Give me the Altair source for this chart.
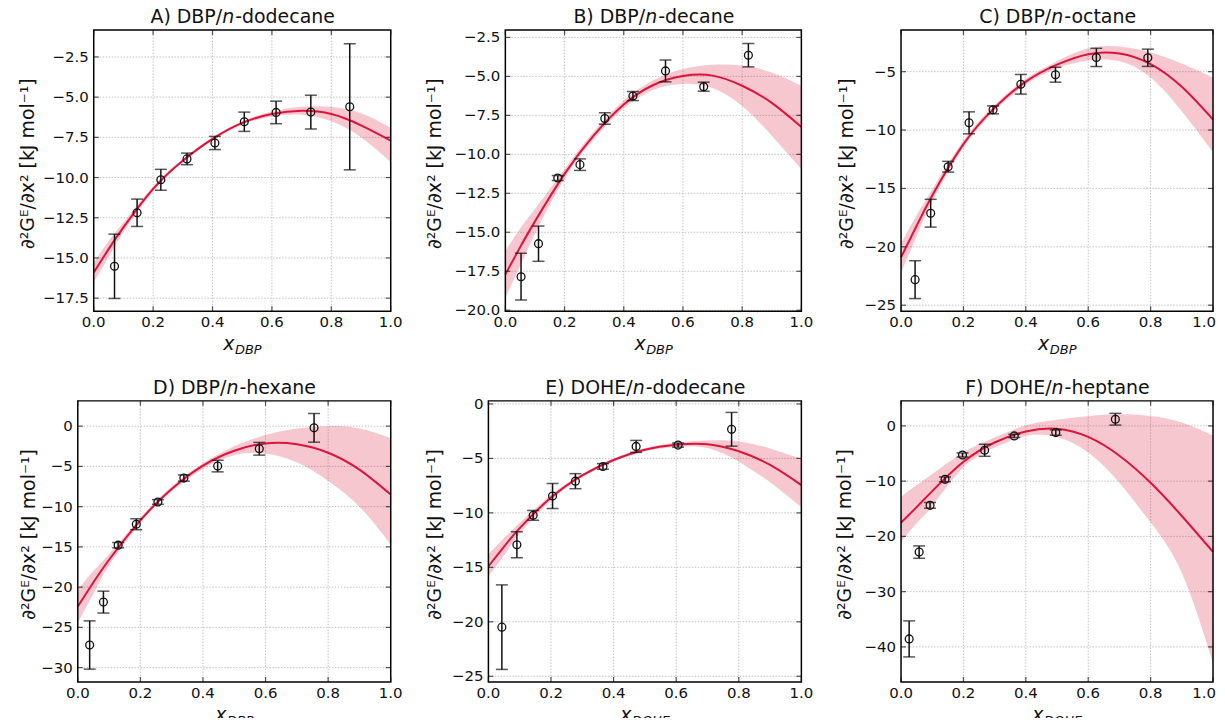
import altair as alt
import pandas as pd

FONT = "DejaVu Sans"
CRIMSON = "#dc143c"
INK = "#111111"
GRID = "#b5b5b5"

# ---------------- text ----------------
TITLE_PREFIX = ["A) DBP/", "B) DBP/", "C) DBP/", "D) DBP/", "E) DOHE/", "F) DOHE/"]
TITLE_ITALIC = "n"
TITLE_SUFFIX = ["-dodecane", "-decane", "-octane", "-hexane", "-dodecane", "-heptane"]
X_MAIN = "x"
X_SUB = ["DBP", "DBP", "DBP", "DBP", "DOHE", "DOHE"]
Y_TITLE = "∂²Gᴱ/∂x² [kJ mol⁻¹]"

# ---------------- axes: ticks and tick labels ----------------
X_TICKS = [0.0, 0.2, 0.4, 0.6, 0.8, 1.0]
X_LABELS = ["0.0", "0.2", "0.4", "0.6", "0.8", "1.0"]
Y_TICKS = [
    [-17.5, -15.0, -12.5, -10.0, -7.5, -5.0, -2.5],
    [-20.0, -17.5, -15.0, -12.5, -10.0, -7.5, -5.0, -2.5],
    [-25, -20, -15, -10, -5],
    [-30, -25, -20, -15, -10, -5, 0],
    [-25, -20, -15, -10, -5, 0],
    [-40, -30, -20, -10, 0],
]
Y_LABELS = [
    ["−17.5", "−15.0", "−12.5", "−10.0", "−7.5", "−5.0", "−2.5"],
    ["−20.0", "−17.5", "−15.0", "−12.5", "−10.0", "−7.5", "−5.0", "−2.5"],
    ["−25", "−20", "−15", "−10", "−5"],
    ["−30", "−25", "−20", "−15", "−10", "−5", "0"],
    ["−25", "−20", "−15", "−10", "−5", "0"],
    ["−40", "−30", "−20", "−10", "0"],
]
Y_DOMAIN = [
    [-18.31, -0.83],
    [-20.06, -2.03],
    [-25.51, -1.44],
    [-31.78, 3.14],
    [-25.52, 0.28],
    [-46.34, 4.53],
]

# ---------------- experimental points ----------------
A_x = [0.070, 0.146, 0.226, 0.314, 0.408, 0.507, 0.614, 0.731, 0.862]
A_y = [-15.52, -12.19, -10.14, -8.84, -7.85, -6.53, -5.95, -5.93, -5.60]
A_err = [2.00, 0.85, 0.65, 0.36, 0.41, 0.60, 0.70, 1.05, 3.92]

B_x = [0.053, 0.112, 0.177, 0.252, 0.336, 0.431, 0.541, 0.670, 0.821]
B_y = [-17.85, -15.73, -11.52, -10.66, -7.70, -6.26, -4.65, -5.66, -3.64]
B_err = [1.50, 1.13, 0.16, 0.37, 0.37, 0.29, 0.70, 0.29, 0.75]

C_x = [0.045, 0.095, 0.151, 0.218, 0.295, 0.384, 0.495, 0.626, 0.791]
C_y = [-22.81, -17.12, -13.14, -9.38, -8.27, -6.08, -5.26, -3.78, -3.81]
C_err = [1.62, 1.19, 0.46, 0.94, 0.34, 0.84, 0.64, 0.78, 0.74]

D_x = [0.038, 0.082, 0.129, 0.187, 0.256, 0.339, 0.447, 0.580, 0.755]
D_y = [-27.19, -21.86, -14.79, -12.19, -9.42, -6.45, -4.96, -2.81, -0.21]
D_err = [3.00, 1.36, 0.33, 0.68, 0.29, 0.38, 0.72, 0.79, 1.78]

E_x = [0.043, 0.091, 0.143, 0.205, 0.278, 0.366, 0.472, 0.606, 0.777]
E_y = [-20.49, -12.93, -10.23, -8.45, -7.09, -5.74, -3.90, -3.78, -2.33]
E_err = [3.88, 1.19, 0.45, 1.15, 0.69, 0.26, 0.55, 0.19, 1.55]

F_x = [0.026, 0.058, 0.093, 0.141, 0.197, 0.268, 0.363, 0.496, 0.687]
F_y = [-38.55, -22.84, -14.38, -9.67, -5.26, -4.41, -1.81, -1.21, 1.21]
F_err = [3.26, 1.12, 0.51, 0.43, 0.37, 1.09, 0.30, 0.48, 1.06]

# ---------------- fitted curves and bands ----------------
FIT_X = [0.0, 0.05, 0.1, 0.2, 0.3, 0.4, 0.5, 0.6, 0.7, 0.8, 0.9, 1.0]

A_fit = [-15.9, -14.45, -13.1, -10.7, -8.95, -7.6, -6.6, -6.05, -5.85, -6.05, -6.75, -7.7]
A_up = [-15.3, -13.95, -12.8, -10.55, -8.85, -7.5, -6.5, -5.9, -5.6, -5.6, -6.0, -6.9]
A_lo = [-16.5, -14.95, -13.4, -10.85, -9.05, -7.7, -6.7, -6.2, -6.1, -6.5, -7.5, -9.05]

B_fit = [-17.7, -15.95, -14.3, -11.25, -8.75, -6.8, -5.55, -4.98, -4.95, -5.6, -6.7, -8.25]
B_up = [-16.2, -14.75, -13.5, -10.95, -8.5, -6.55, -5.25, -4.53, -4.25, -4.3, -4.75, -5.6]
B_lo = [-19.2, -17.15, -15.1, -11.55, -9.0, -7.05, -5.85, -5.48, -5.75, -6.9, -8.8, -10.95]

C_fit = [-20.9, -18.2, -15.6, -11.2, -8.1, -5.85, -4.4, -3.5, -3.45, -4.35, -6.3, -9.1]
C_up = [-19.7, -17.3, -15.1, -10.9, -7.85, -5.6, -4.1, -3.0, -2.85, -3.35, -4.3, -5.5]
C_lo = [-22.2, -19.1, -16.1, -11.5, -8.35, -6.1, -4.7, -4.05, -4.1, -5.5, -8.4, -11.9]

D_fit = [-22.4, -19.4, -16.6, -11.7, -7.8, -4.9, -3.05, -2.15, -2.25, -3.3, -5.4, -8.5]
D_up = [-20.3, -18.0, -15.9, -11.4, -7.5, -4.6, -2.5, -1.1, -0.3, 0.0, -0.3, -1.5]
D_lo = [-24.4, -20.8, -17.3, -12.0, -8.1, -5.3, -3.6, -3.4, -4.5, -6.8, -10.0, -14.7]

E_fit = [-14.9, -13.1, -11.4, -8.6, -6.55, -5.15, -4.2, -3.75, -3.7, -4.35, -5.6, -7.45]
E_up = [-13.8, -12.3, -10.9, -8.35, -6.4, -5.0, -4.05, -3.55, -3.35, -3.45, -4.1, -5.05]
E_lo = [-15.8, -13.9, -11.9, -8.85, -6.7, -5.3, -4.35, -3.95, -4.05, -5.3, -7.2, -9.5]

F_fit = [-17.5, -14.7, -11.8, -6.5, -3.0, -1.0, -0.5, -2.0, -5.4, -10.3, -16.3, -22.8]
F_up = [-12.8, -10.7, -8.7, -4.8, -2.1, 0.1, 1.1, 1.8, 2.1, 1.8, 0.6, -1.8]
F_lo = [-21.0, -17.6, -14.5, -7.5, -3.9, -1.8, -2.0, -4.8, -10.3, -17.5, -26.6, -42.9]

PTS = [(A_x, A_y, A_err), (B_x, B_y, B_err), (C_x, C_y, C_err),
       (D_x, D_y, D_err), (E_x, E_y, E_err), (F_x, F_y, F_err)]
FITS = [(A_fit, A_up, A_lo), (B_fit, B_up, B_lo), (C_fit, C_up, C_lo),
        (D_fit, D_up, D_lo), (E_fit, E_up, E_lo), (F_fit, F_up, F_lo)]

# ---------------- layout ----------------
CELL_W = [314, 314, 313, 314, 314, 313]    # grid cell width
PLOT_X0 = [16, 17, 0, 0, 0, 0]             # left edge of the plot frame inside its cell
HEIGHT = 282
YTITLE_OFF = [60, 65, 48, 43, 48, 50]      # baseline of rotated y title, left of plot
FLUSH_LAST = [False, False, True, False, False, True]
TITLE_SIZE = 19
AXTITLE_SIZE = 19
SUB_SIZE = 13
LABEL_SIZE = 15

CW = {'A': .684, ')': .390, ' ': .318, 'D': .770, 'B': .686, 'P': .603, '/': .337,
      'n': .634, '-': .361, 'd': .635, 'o': .612, 'e': .615, 'c': .550, 'a': .613,
      'h': .634, 'x': .592, 't': .392, 'p': .635, 'E': .632, 'O': .787, 'H': .752,
      'C': .698, 'F': .575, 'l': .278}


def tw(s, size):
    return sum(CW.get(ch, 0.6) for ch in s) * size


def text_layer(txt, x, y, size, italic=False, align="left", angle=0):
    return alt.Chart(pd.DataFrame({"t": [txt]})).mark_text(
        font=FONT, fontSize=size, fontStyle="italic" if italic else "normal",
        align=align, baseline="alphabetic", color=INK, angle=angle,
    ).encode(text="t:N", x=alt.value(x), y=alt.value(y))


def panel(i):
    w = CELL_W[i]
    r0 = PLOT_X0[i]
    ydom = Y_DOMAIN[i]
    xs = alt.Scale(domain=[0, 1], range=[r0, w], nice=False, zero=False)
    ys = alt.Scale(domain=ydom, nice=False, zero=False)

    def X(f):
        return alt.X(f, type="quantitative", scale=xs, axis=None)

    def Y(f):
        return alt.Y(f, type="quantitative", scale=ys, axis=None)

    nt = len(X_TICKS)
    ny = len(Y_TICKS[i])

    # dotted grid
    gx = alt.Chart(pd.DataFrame({"x": X_TICKS[1:-1], "y1": [ydom[0]] * (nt - 2),
                                 "y2": [ydom[1]] * (nt - 2)})).mark_rule(
        color=GRID, strokeWidth=0.8, strokeDash=[1.5, 1.5]).encode(x=X("x"), y=Y("y1"), y2="y2:Q")
    gy = alt.Chart(pd.DataFrame({"y": Y_TICKS[i], "x1": [0.0] * ny, "x2": [1.0] * ny})).mark_rule(
        color=GRID, strokeWidth=0.8, strokeDash=[1.5, 1.5]).encode(y=Y("y"), x=X("x1"), x2="x2:Q")

    fit, up, lo = FITS[i]
    fdf = pd.DataFrame({"x": FIT_X, "fit": fit, "up": up, "lo": lo})
    px, py, pe = PTS[i]
    pdf = pd.DataFrame({"x": px, "y": py,
                        "lo": [a - b for a, b in zip(py, pe)],
                        "hi": [a + b for a, b in zip(py, pe)]})
    cdf = pd.DataFrame({"x": px + px,
                        "v": [a - b for a, b in zip(py, pe)] + [a + b for a, b in zip(py, pe)]})

    band = alt.Chart(fdf).mark_area(color=CRIMSON, opacity=0.24, interpolate="natural").encode(
        x=X("x"), y=Y("lo"), y2="up:Q")
    line = alt.Chart(fdf).mark_line(color=CRIMSON, strokeWidth=2, interpolate="natural").encode(
        x=X("x"), y=Y("fit"))
    bars = alt.Chart(pdf).mark_rule(color=INK, strokeWidth=1.5).encode(
        x=X("x"), y=Y("lo"), y2="hi:Q")
    caps = alt.Chart(cdf).mark_tick(orient="horizontal", size=12, thickness=1.5, color=INK).encode(
        x=X("x"), y=Y("v"))
    pts = alt.Chart(pdf).mark_point(shape="circle", filled=False, size=62, strokeWidth=1.3,
                                    color=INK, opacity=1).encode(x=X("x"), y=Y("y"))

    # frame
    frame = alt.Chart(pd.DataFrame({"x1": [0.0], "x2": [1.0], "y1": [ydom[0]], "y2": [ydom[1]]})).mark_rect(
        fillOpacity=0, stroke="black", strokeWidth=1.5).encode(x=X("x1"), x2="x2:Q", y=Y("y1"), y2="y2:Q")

    # inward ticks on all four sides
    tk = dict(thickness=1.2, color=INK, size=5)
    t_bot = alt.Chart(pd.DataFrame({"x": X_TICKS, "y": [ydom[0]] * nt})).mark_tick(
        orient="vertical", yOffset=-2.5, **tk).encode(x=X("x"), y=Y("y"))
    t_top = alt.Chart(pd.DataFrame({"x": X_TICKS, "y": [ydom[1]] * nt})).mark_tick(
        orient="vertical", yOffset=2.5, **tk).encode(x=X("x"), y=Y("y"))
    t_left = alt.Chart(pd.DataFrame({"x": [0.0] * ny, "y": Y_TICKS[i]})).mark_tick(
        orient="horizontal", xOffset=2.5, **tk).encode(x=X("x"), y=Y("y"))
    t_right = alt.Chart(pd.DataFrame({"x": [1.0] * ny, "y": Y_TICKS[i]})).mark_tick(
        orient="horizontal", xOffset=-2.5, **tk).encode(x=X("x"), y=Y("y"))

    # tick labels
    lab = dict(font=FONT, fontSize=LABEL_SIZE, color=INK)
    n_center = nt - 1 if FLUSH_LAST[i] else nt
    xl = alt.Chart(pd.DataFrame({"x": X_TICKS[:n_center], "y": [ydom[0]] * n_center,
                                 "t": X_LABELS[:n_center]})).mark_text(
        align="center", baseline="top", dy=4, **lab).encode(x=X("x"), y=Y("y"), text="t:N")
    layers_lab = [xl]
    if FLUSH_LAST[i]:
        xr = alt.Chart(pd.DataFrame({"x": X_TICKS[-1:], "y": [ydom[0]],
                                     "t": X_LABELS[-1:]})).mark_text(
            align="right", baseline="top", dy=4, dx=3, **lab).encode(x=X("x"), y=Y("y"), text="t:N")
        layers_lab.append(xr)
    yl = alt.Chart(pd.DataFrame({"x": [0.0] * ny, "y": Y_TICKS[i], "t": Y_LABELS[i]})).mark_text(
        align="right", baseline="middle", dx=-5, **lab).encode(x=X("x"), y=Y("y"), text="t:N")
    layers_lab.append(yl)

    # y title (rotated)
    yt = text_layer(Y_TITLE, r0 - YTITLE_OFF[i], HEIGHT / 2 - 7, AXTITLE_SIZE, align="center", angle=270)

    # panel title with italic "n"
    cx = (r0 + w) / 2
    pw = tw(TITLE_PREFIX[i], TITLE_SIZE)
    nw = tw(TITLE_ITALIC, TITLE_SIZE)
    sw = tw(TITLE_SUFFIX[i], TITLE_SIZE)
    x0 = cx - (pw + nw + sw) / 2
    ty = -7
    t1 = text_layer(TITLE_PREFIX[i], x0, ty, TITLE_SIZE)
    t2 = text_layer(TITLE_ITALIC, x0 + pw, ty, TITLE_SIZE, italic=True)
    t3 = text_layer(TITLE_SUFFIX[i], x0 + pw + nw + 1, ty, TITLE_SIZE)

    # x-axis title with subscript
    xw = tw(X_MAIN, AXTITLE_SIZE)
    subw = tw(X_SUB[i], SUB_SIZE)
    xx0 = cx - (xw + subw) / 2
    l1 = text_layer(X_MAIN, xx0, HEIGHT + 39, AXTITLE_SIZE, italic=True)
    l2 = text_layer(X_SUB[i], xx0 + xw + 0.5, HEIGHT + 43, SUB_SIZE, italic=True)

    return alt.layer(gx, gy, band, line, bars, caps, pts, frame, t_bot, t_top, t_left, t_right,
                     *layers_lab, yt, t1, t2, t3, l1, l2).properties(width=w, height=HEIGHT)


chart = alt.concat(*[panel(i) for i in range(6)], columns=3, align="each",
                   spacing=alt.RowColnumber(row=22, column=23)).properties(
    padding={"left": 10, "top": -1, "right": 0, "bottom": -11}
).configure(font=FONT).configure_view(strokeWidth=0)

chart.save("out.html", embed_options={"renderer": "svg", "actions": False})
